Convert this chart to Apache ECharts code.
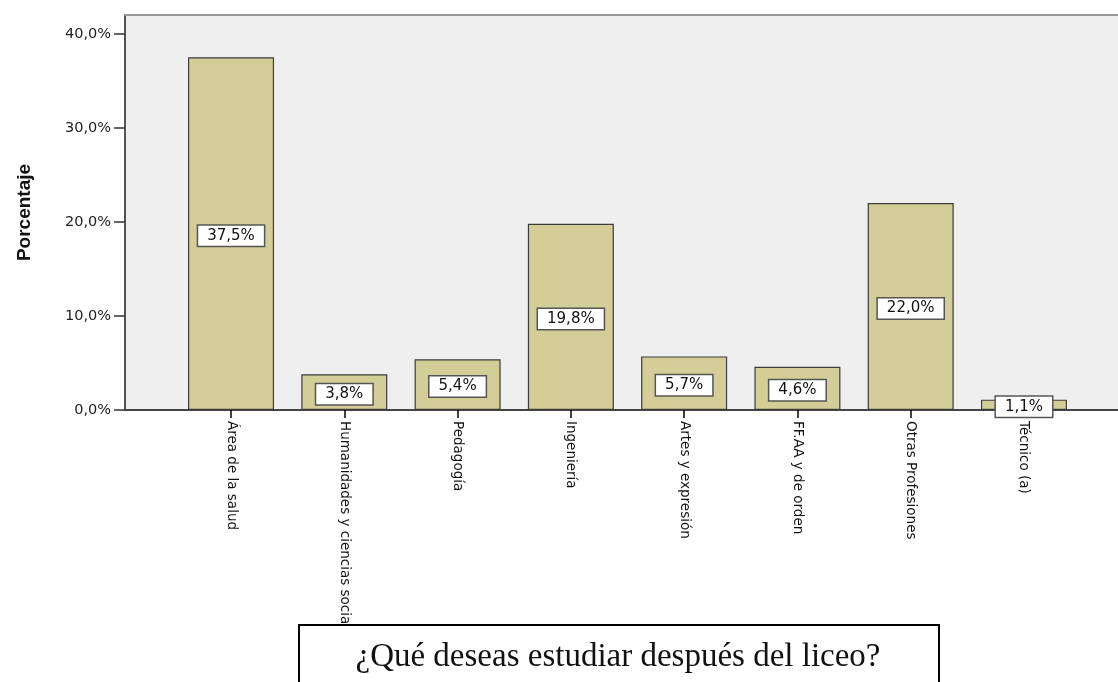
<!DOCTYPE html>
<html>
<head>
<meta charset="utf-8">
<script src="https://cdn.jsdelivr.net/npm/echarts@6/dist/echarts.min.js"></script>
<style>html,body{margin:0;padding:0;background:#fff;}#c{width:1118px;height:682px;}</style>
</head>
<body>
<div id="c"></div>
<script>
const categories = ['Área de la salud','Humanidades y ciencias sociales','Pedagogía','Ingeniería','Artes y expresión','FF.AA y de orden','Otras Profesiones','Técnico (a)'];
const values = [37.5, 3.8, 5.4, 19.8, 5.7, 4.6, 22.0, 1.1];
const yTicks = [0, 10, 20, 30, 40];
const yMax = 42;
const yAxisName = 'Porcentaje';
const titleText = '¿Qué deseas estudiar después del liceo?';

const fmt = v => v.toFixed(1).replace('.', ',') + '%';
const chart = echarts.init(document.getElementById('c'));
chart.setOption({
  animation: false,
  grid: [
    {left: 125, right: 0, top: 15, bottom: 272, show: true, backgroundColor: '#efefef', borderWidth: 0},
    {left: 174.4, right: 37.4, top: 15, bottom: 272}
  ],
  xAxis: [
    {gridIndex: 0, type: 'value', min: 0, max: 1, position: 'bottom',
     axisLine: {show: true, lineStyle: {color: '#444', width: 2}}, axisTick: {show: false}, axisLabel: {show: false}, splitLine: {show: false}},
    {gridIndex: 0, type: 'value', min: 0, max: 1, position: 'top',
     axisLine: {show: true, lineStyle: {color: '#999', width: 2}}, axisTick: {show: false}, axisLabel: {show: false}, splitLine: {show: false}},
    {gridIndex: 1, type: 'category', data: categories, boundaryGap: true,
     axisLine: {show: false},
     axisTick: {show: true, alignWithLabel: true, length: 8, lineStyle: {color: '#000', width: 1.5}},
     axisLabel: {rotate: -90, interval: 0, margin: 11, color: '#111', fontFamily: 'DejaVu Sans, sans-serif', fontSize: 13.5}}
  ],
  yAxis: [
    {gridIndex: 0, type: 'value', min: 0, max: yMax, interval: 10,
     name: yAxisName, nameLocation: 'middle', nameGap: 91, nameRotate: 90,
     nameTextStyle: {fontFamily: 'Liberation Sans, Arial, sans-serif', fontWeight: 'bold', fontSize: 19, color: '#111'},
     axisLine: {show: true, lineStyle: {color: '#555', width: 2}},
     axisTick: {show: true, length: 11, customValues: yTicks, lineStyle: {color: '#333', width: 1.5}},
     axisLabel: {margin: 14, customValues: yTicks, color: '#222', fontFamily: 'DejaVu Sans, sans-serif', fontSize: 14.5,
       formatter: v => fmt(v)},
     splitLine: {show: false}},
    {gridIndex: 1, type: 'value', min: 0, max: yMax, show: false}
  ],
  series: [{
    type: 'bar', xAxisIndex: 2, yAxisIndex: 1, data: values, barWidth: 86,
    itemStyle: {color: '#d3ce97', borderColor: '#3c3c3c', borderWidth: 1.2},
    label: {show: true, position: 'inside', offset: [0, 2], formatter: p => fmt(p.value),
      fontFamily: 'DejaVu Sans, sans-serif', fontSize: 15, color: '#111',
      backgroundColor: '#fff', borderColor: '#555', borderWidth: 1.5, padding: [3, 9, 2, 9]}
  }],
  graphic: [
    {type: 'rect', zlevel: 1, z: 100, shape: {x: 299, y: 625, width: 640, height: 70}, style: {fill: '#fff', stroke: '#000', lineWidth: 2}},
    {type: 'text', zlevel: 1, z: 101, x: 618, y: 657, style: {text: titleText, fill: '#111', font: '33px "Liberation Serif", "Times New Roman", serif', textAlign: 'center', textVerticalAlign: 'middle'}}
  ]
});
</script>
</body>
</html>
